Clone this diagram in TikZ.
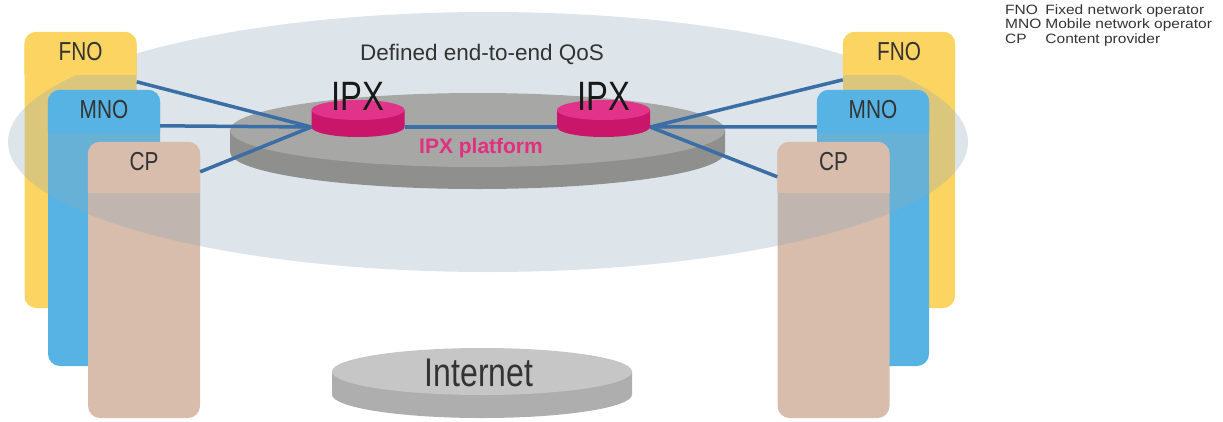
\documentclass[tikz,border=0pt]{standalone}
\usepackage{fontspec}
\setmainfont{Liberation Sans}
\newfontfamily\condfont[FakeStretch=0.8]{Liberation Sans}
\newfontfamily\legfont[FakeStretch=1.15]{Liberation Sans}

\definecolor{fnoyellow}{HTML}{FCD462}
\definecolor{mnoblue}{HTML}{56B3E3}
\definecolor{cpbeige}{HTML}{D8BCAC}
\definecolor{qosgrey}{HTML}{8FAAB8}
\definecolor{linkblue}{HTML}{3A6EA5}
\definecolor{ipxpink}{HTML}{E2338A}
\definecolor{ipxside}{HTML}{C9166A}
\definecolor{ipxtext}{HTML}{E0307F}
\definecolor{plattop}{HTML}{A7A7A5}
\definecolor{platside}{HTML}{8F8F8D}
\definecolor{nettop}{HTML}{C6C6C6}
\definecolor{netside}{HTML}{AEAEAE}

\tikzset{
    op box/.style={rounded corners=12pt, minimum width=112pt,
                   minimum height=276pt, inner sep=0pt},
    op label/.style={font=\condfont\fontsize{26}{26}\selectfont,
                     text=black!80, anchor=base, inner sep=0pt},
    ipx link/.style={linkblue, line width=3.5pt},
    ipx node/.style={minimum width=93pt, minimum height=20pt, inner sep=0pt},
    ipx label/.style={font=\condfont\fontsize{41}{41}\selectfont,
                      text=black!90, anchor=base, inner sep=0pt},
}
% flat disk: centre x, centre y of top face, x radius, y radius, height, top colour, side colour
\newcommand{\disk}[7]{%
    \fill[#7] (#1-#3,#2) -- (#1-#3,#2+#5)
        arc[start angle=180, end angle=0, x radius=#3, y radius=#4]
        -- (#1+#3,#2) -- cycle;
    \fill[#6] (#1,#2) ellipse[x radius=#3, y radius=#4];
}

\begin{document}
\begin{tikzpicture}[x=1pt, y=-1pt]
    \useasboundingbox (0,0) rectangle (1223,421);
    % Left operators
    \node[op box, fill=fnoyellow] (fnoL) at (80.5,170) {};
    \node[op box, fill=mnoblue]   (mnoL) at (104,228) {};
    \node[op box, fill=cpbeige]   (cpL)  at (144,280) {};
    % Right operators
    \node[op box, fill=fnoyellow] (fnoR) at (899,170) {};
    \node[op box, fill=mnoblue]   (mnoR) at (873,228) {};
    \node[op box, fill=cpbeige]   (cpR)  at (833.5,280) {};
    % QoS area
    \fill[qosgrey, opacity=0.3] (488,142) ellipse[x radius=480, y radius=130];
    \foreach \b/\c/\d in {fnoL/fnoyellow/43, mnoL/mnoblue/43, cpL/cpbeige/51,
                          fnoR/fnoyellow/43, mnoR/mnoblue/43, cpR/cpbeige/51} {
        \begin{scope}
            \clip (\b.north west) rectangle ([yshift=-\d pt]\b.north east);
            \fill[\c, rounded corners=12pt] (\b.south west) rectangle (\b.north east);
        \end{scope}
    }
    \node[op label] (fnoL-t) at ([yshift=-28.5pt]fnoL.north) {FNO};
    \node[op label] (mnoL-t) at ([yshift=-28.5pt]mnoL.north) {MNO};
    \node[op label] (cpL-t)  at ([yshift=-28.5pt]cpL.north)  {CP};
    \node[op label] (fnoR-t) at ([yshift=-28.5pt]fnoR.north) {FNO};
    \node[op label] (mnoR-t) at ([yshift=-28.5pt]mnoR.north) {MNO};
    \node[op label] (cpR-t)  at ([yshift=-28.5pt]cpR.north)  {CP};
    \node[font=\fontsize{22.5}{22.5}\selectfont, text=black!80, anchor=base]
        (qos) at (482,60) {Defined end-to-end QoS};
    % IPX platform
    \disk{477.5}{130}{247.5}{37}{22}{plattop}{platside}
    \node[font=\bfseries\fontsize{21}{21}\selectfont, text=ipxtext, anchor=base]
        (plat) at (481,153) {IPX platform};
    % IPX nodes and links
    \node[ipx node] (ipxL) at (358,127) {};
    \node[ipx node] (ipxR) at (603.5,127) {};
    \draw[ipx link] ([yshift=-50pt]fnoL.north east) -- (ipxL.west);
    \draw[ipx link] ([yshift=-36pt]mnoL.north east) -- (ipxL.west);
    \draw[ipx link] ([yshift=-30pt]cpL.north east)  -- (ipxL.west);
    \draw[ipx link] (ipxL.east) -- (ipxR.west);
    \draw[ipx link] (ipxR.east) -- ([yshift=-48pt]fnoR.north west);
    \draw[ipx link] (ipxR.east) -- ([yshift=-37pt]mnoR.north west);
    \draw[ipx link] (ipxR.east) -- ([yshift=-35pt]cpR.north west);
    \disk{358}{110}{46.5}{10}{17}{ipxpink}{ipxside}
    \disk{603.5}{110}{46.5}{10}{17}{ipxpink}{ipxside}
    \node[ipx label] (ipxL-t) at ([yshift=17pt]ipxL.center) {IPX};
    \node[ipx label] (ipxR-t) at ([yshift=17pt]ipxR.center) {IPX};
    % Internet
    \disk{482}{371.5}{150}{23.5}{23}{nettop}{netside}
    \node[font=\condfont\fontsize{40}{40}\selectfont, text=black!80, anchor=base]
        (inet) at (479,386) {Internet};
    % Legend
    \node[anchor=north west, inner sep=0pt, text=black!80,
          font=\legfont\fontsize{13.5}{14.5}\selectfont] (legend) at (1005,4)
        {\begin{tabular}{@{}l@{\hspace{4pt}}l@{}}
            FNO & Fixed network operator\\
            MNO & Mobile network operator\\
            CP  & Content provider
         \end{tabular}};
\end{tikzpicture}
\end{document}
